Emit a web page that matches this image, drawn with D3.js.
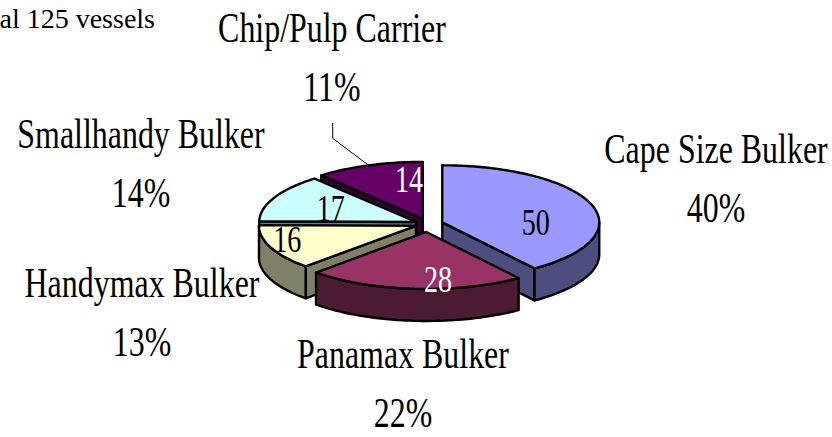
<!DOCTYPE html>
<html>
<head>
<meta charset="utf-8">
<script src="https://d3js.org/d3.v7.min.js"></script>
<style>
	body { margin: 0; background: #ffffff; }
	svg { display: block; }
</style>
</head>
<body>
<div id="chart"></div>
<script>
// data
var categories = ["Cape Size Bulker", "Panamax Bulker", "Handymax Bulker", "Smallhandy Bulker", "Chip/Pulp Carrier"];
var vessels = [50, 28, 16, 17, 14];
var totalPrefix = "Total";
var totalSuffix = "vessels";

var w = 832, h = 437;
var cx = 428, cy = 224;      // pie centre
var rx = 157, ry = 57;       // ellipse radii of top face
var depth = 32;              // thickness of the pie
var explode = [15, 22, 13, 13, 15];
var topColors = ["#9999ff", "#993366", "#ffffcc", "#ccffff", "#660066"];
var sideColors = ["#4d4d80", "#4d1a33", "#808066", "#668080", "#330033"];
var valueColors = ["#000000", "#ffffff", "#000000", "#000000", "#ffffff"];
var valueNudge = [[-11, 13], [20, 8], [-27, -1], [14, 3], [24, -2]];
var outerPos = [[716, 163], [403, 368], [142, 297], [141, 148], [332, 42]];
var squeeze = 0.76;
var font = "'Liberation Serif', 'Times New Roman', serif";

var svg = d3.select("#chart").append("svg")
	.attr("width", w)
	.attr("height", h);

var total = d3.sum(vessels);
var pct = d3.format(".0%");
var arcs = d3.pie().sort(null).value(function(d) { return d; })(vessels);

// position on the projected ellipse
function pt(c, a, r, dz) {
	return [c[0] + r * rx * Math.sin(a), c[1] - r * ry * Math.cos(a) + (dz || 0)];
}

function arcPoints(c, a0, a1, dz) {
	var n = Math.max(2, Math.ceil(Math.abs(a1 - a0) / (Math.PI / 180)));
	var pts = [];
	for (var i = 0; i <= n; i++) {
		pts.push(pt(c, a0 + (a1 - a0) * i / n, 1, dz));
	}
	return pts;
}

var line = d3.line();

arcs.forEach(function(d, i) {
	d.mid = (d.startAngle + d.endAngle) / 2;
	d.center = [cx + explode[i] * Math.sin(d.mid), cy - explode[i] * Math.cos(d.mid) * ry / rx];
	d.i = i;
});

// back slices first
var order = arcs.slice().sort(function(a, b) { return Math.cos(b.mid) - Math.cos(a.mid); });

order.forEach(function(d) {
	var i = d.i, c = d.center;
	var g = svg.append("g");

	// radial cut faces that face the viewer
	[[d.startAngle, d.startAngle - Math.PI / 2], [d.endAngle, d.endAngle + Math.PI / 2]].forEach(function(f) {
		if (-Math.cos(f[1]) > 0.01) {
			var p = pt(c, f[0], 1);
			g.append("path")
				.attr("d", line([c, p, [p[0], p[1] + depth], [c[0], c[1] + depth]]) + "Z")
				.attr("fill", sideColors[i])
				.attr("stroke", "#000")
				.attr("stroke-width", 2.4)
				.attr("stroke-linejoin", "round");
		}
	});

	// outer curved wall, front half only
	var a0 = Math.max(d.startAngle, Math.PI / 2), a1 = Math.min(d.endAngle, 3 * Math.PI / 2);
	if (a1 > a0) {
		var pts = arcPoints(c, a0, a1, 0).concat(arcPoints(c, a1, a0, depth));
		g.append("path")
			.attr("d", line(pts) + "Z")
			.attr("fill", sideColors[i])
			.attr("stroke", "#000")
			.attr("stroke-width", 2.4)
			.attr("stroke-linejoin", "round");
	}

	// top face
	g.append("path")
		.attr("d", line([c].concat(arcPoints(c, d.startAngle, d.endAngle, 0))) + "Z")
		.attr("fill", topColors[i])
		.attr("stroke", "#000")
		.attr("stroke-width", 2.4)
		.attr("stroke-linejoin", "round");
});

// values on the slices
arcs.forEach(function(d, i) {
	var p = pt(d.center, d.mid, 0.7);
	svg.append("text")
		.attr("transform", "translate(" + (p[0] + valueNudge[i][0]) + "," + (p[1] + valueNudge[i][1] + 12.5) + ") scale(" + squeeze + ",1)")
		.attr("text-anchor", "middle")
		.attr("font-family", font)
		.attr("font-size", 37)
		.attr("fill", valueColors[i])
		.text(d.data);
});

// category and percent labels
arcs.forEach(function(d, i) {
	var lines = [categories[i], pct(d.data / total)];
	lines.forEach(function(t, k) {
		svg.append("text")
			.attr("transform", "translate(" + outerPos[i][0] + "," + (outerPos[i][1] + k * 59) + ") scale(" + squeeze + ",1)")
			.attr("text-anchor", "middle")
			.attr("font-family", font)
			.attr("font-size", 42)
			.attr("fill", "#000")
			.text(t);
	});
});

// leader line for the chip/pulp slice
var chip = arcs[4];
var edge = pt(chip.center, chip.mid, 1);
var elbow = [edge[0] - 36, edge[1] - 27];
svg.append("path")
	.attr("d", line([edge, elbow, [elbow[0], outerPos[4][1] + 59 + 22]]))
	.attr("fill", "none")
	.attr("stroke", "#000")
	.attr("stroke-width", 1);

// total note, cut by the left edge
svg.append("text")
	.attr("x", 155)
	.attr("y", 28)
	.attr("text-anchor", "end")
	.attr("font-family", font)
	.attr("font-size", 28)
	.attr("fill", "#000")
	.text(totalPrefix + " " + total + " " + totalSuffix);
</script>
</body>
</html>
